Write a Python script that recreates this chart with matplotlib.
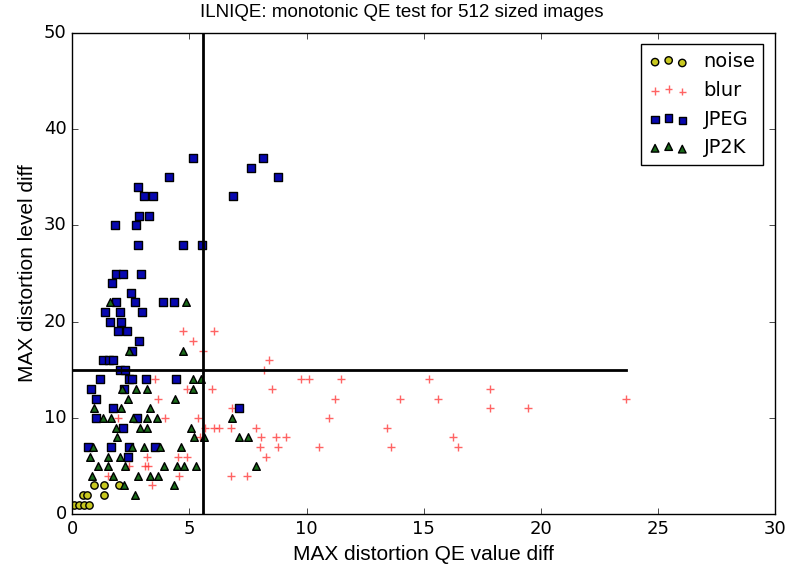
import numpy as np
import matplotlib
matplotlib.use("Agg")
import matplotlib.pyplot as plt

plt.style.use("classic")

# noise points (QE value diff, level diff)
noise_x = [0.09, 0.30, 0.50, 0.71, 0.46, 0.62, 1.37, 0.91, 1.35, 2.00]
noise_y = [1, 1, 1, 1, 2, 2, 2, 3, 3, 3]

# blur points
blur_x = [4.72, 6.04, 5.15, 5.57, 8.39, 8.18, 9.76, 10.12, 11.47, 15.24,
          3.52, 4.89, 5.96, 8.53, 17.82, 3.68, 11.21, 14.00, 15.60, 23.65,
          6.81, 17.82, 19.46, 1.97, 3.97, 5.36, 10.98, 5.66, 6.06, 6.28,
          6.77, 7.85, 13.44, 5.46, 8.05, 8.68, 9.13, 16.24, 8.01, 8.78,
          10.54, 13.60, 16.47, 3.18, 4.50, 4.89, 8.28, 2.42, 3.11, 3.25,
          1.54, 4.55, 6.78, 7.45, 3.42]
blur_y = [19, 19, 18, 17, 16, 15, 14, 14, 14, 14,
          14, 13, 13, 13, 13, 12, 12, 12, 12, 12,
          11, 11, 11, 10, 10, 10, 10, 9, 9, 9,
          9, 9, 9, 8, 8, 8, 8, 8, 7, 7,
          7, 7, 7, 6, 6, 6, 6, 5, 5, 5,
          4, 4, 4, 4, 3]

# JPEG points
jpeg_x = [5.15, 4.12, 2.81, 3.06, 3.46, 6.84, 2.86, 3.26, 1.84, 2.72,
          2.81, 4.72, 5.54, 1.87, 2.18, 2.92, 1.70, 2.51, 1.87, 2.69,
          3.89, 4.36, 1.38, 2.04, 2.97, 1.61, 2.07, 1.95, 2.35, 2.85,
          2.56, 1.30, 1.58, 1.75, 2.04, 2.25, 1.20, 2.41, 2.54, 3.14,
          4.44, 2.22, 0.80, 1.00, 1.73, 1.01, 2.75, 2.17, 0.67, 1.67,
          2.44, 3.52, 2.38, 7.62, 8.14, 8.80, 7.11]
jpeg_y = [37, 35, 34, 33, 33, 33, 31, 31, 30, 30,
          28, 28, 28, 25, 25, 25, 24, 23, 22, 22,
          22, 22, 21, 21, 21, 20, 20, 19, 19, 18,
          17, 16, 16, 16, 15, 15, 14, 14, 14, 14,
          14, 13, 13, 12, 11, 10, 10, 9, 7, 7,
          7, 7, 6, 36, 37, 35, 11]

# JP2K points
jp2k_x = [1.61, 4.85, 2.42, 4.74, 5.17, 5.51, 2.11, 2.72, 3.18, 5.17,
          2.39, 4.40, 0.94, 2.09, 3.33, 1.32, 1.67, 2.58, 3.19, 3.63,
          6.81, 1.87, 2.91, 3.21, 5.07, 1.90, 5.21, 5.64, 7.12, 7.51,
          0.90, 2.54, 3.06, 3.74, 4.63, 0.77, 1.53, 2.03, 1.11, 1.54,
          2.26, 3.92, 4.46, 4.77, 5.27, 7.86, 0.85, 1.75, 2.82, 3.31,
          3.65, 2.21, 4.36, 2.69]
jp2k_y = [22, 22, 17, 17, 14, 14, 13, 13, 13, 13,
          12, 12, 11, 11, 11, 10, 10, 10, 10, 10,
          10, 9, 9, 9, 9, 8, 8, 8, 8, 8,
          7, 7, 7, 7, 7, 6, 6, 6, 5, 5,
          5, 5, 5, 5, 5, 5, 4, 4, 4, 4,
          4, 3, 3, 2]

qe_thresh = 5.57
level_thresh = 15

fig = plt.figure(figsize=(7.9, 5.65), dpi=100)
fig.patch.set_facecolor("white")
ax = fig.add_axes([0.0915, 0.0897, 0.8895, 0.8523])

ax.scatter(noise_x, noise_y, c="#c8c820", marker="o", s=28, label="noise")
ax.scatter(blur_x, blur_y, c="#ff3030", marker="+", s=28, label="blur", alpha=0.75)
ax.scatter(jpeg_x, jpeg_y, c="#0808b0", marker="s", s=28, label="JPEG")
ax.scatter(jp2k_x, jp2k_y, c="#1a6a1a", marker="^", s=30, label="JP2K")

ax.axvline(qe_thresh, color="k", lw=2)
ax.plot([0, max(blur_x)], [level_thresh, level_thresh], color="k", lw=2)

ax.set_xlim(0, 30)
ax.set_ylim(0, 50)
ax.tick_params(labelsize=13)

# title sits a bit left of the axes centre in the original
fig.text(0.508, 0.978, "ILNIQE: monotonic QE test for 512 sized images",
         family="Liberation Sans", size=13.5, ha="center", va="center")
ax.set_xlabel("MAX distortion QE value diff", family="Liberation Sans", size=15)
ax.set_ylabel("MAX distortion level diff", family="Liberation Sans", size=15)

ax.legend(loc="upper right", scatterpoints=3, fontsize=14, borderaxespad=0.6)

fig.savefig("out.png", dpi=100, facecolor="white")
